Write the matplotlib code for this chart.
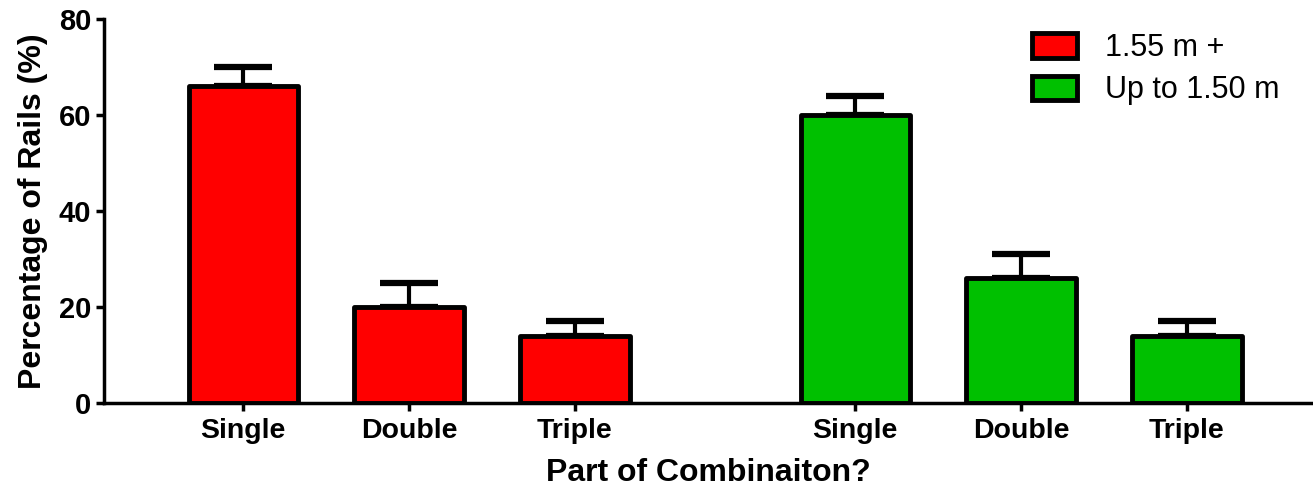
import matplotlib
matplotlib.use("Agg")
import matplotlib.pyplot as plt
from matplotlib.patches import Patch

plt.rcParams['font.family'] = ['Liberation Sans', 'DejaVu Sans']

categories = ["Single", "Double", "Triple", "Single", "Double", "Triple"]
series_names = ["1.55 m +", "Up to 1.50 m"]
tall_values = [66, 20, 14]
tall_err = [4, 5, 3]
short_values = [60, 26, 14]
short_err = [4, 5, 3]
yticks = [0, 20, 40, 60, 80]

colors = ["#FF0000", "#00C000"]
pos_tall = [0, 1, 2]
pos_short = [3.69, 4.69, 5.69]

fig = plt.figure(figsize=(13.13, 4.96), dpi=100)
ax = fig.add_axes([0.0792, 0.1875, 0.9208, 0.7742])

for pos, vals, errs, col in [(pos_tall, tall_values, tall_err, colors[0]),
                             (pos_short, short_values, short_err, colors[1])]:
    ax.bar(pos, vals, width=0.66, color=col, edgecolor="black", linewidth=3.5,
           zorder=3, joinstyle="round")
    ax.errorbar(pos, vals, yerr=[[0] * len(vals), errs], fmt="none", ecolor="black",
                elinewidth=3, capsize=21, capthick=4.5, zorder=2)

ax.set_xlim(-0.84, 6.45)
ax.set_ylim(0, 80)
ax.set_yticks(yticks)
ax.set_yticklabels([str(t) for t in yticks], fontsize=21, fontweight="bold")
ax.set_xticks(pos_tall + pos_short)
ax.set_xticklabels(categories, fontsize=20.5, fontweight="bold")
ax.tick_params(axis="both", direction="out", length=6, width=2.5, colors="black")
ax.tick_params(axis="y", pad=3)
ax.tick_params(axis="x", pad=5)

for s in ["top", "right"]:
    ax.spines[s].set_visible(False)
ax.spines["left"].set_linewidth(2.5)
ax.spines["bottom"].set_linewidth(2.5)
ax.spines["left"].set_zorder(5)
ax.spines["bottom"].set_zorder(5)

ax.set_ylabel("Percentage of Rails (%)", fontsize=23, fontweight="bold", labelpad=8)
ax.set_xlabel("Part of Combinaiton?", fontsize=23, fontweight="bold", labelpad=10)

handles = [Patch(facecolor=c, edgecolor="black", linewidth=3.5, label=n)
           for c, n in zip(colors, series_names)]
leg = ax.legend(handles=handles, loc="upper right", bbox_to_anchor=(0.995, 1.035),
                frameon=False, fontsize=22, handlelength=1.5, handleheight=0.85,
                handletextpad=0.9, labelspacing=0.4)

fig.savefig("out.png", dpi=100)
